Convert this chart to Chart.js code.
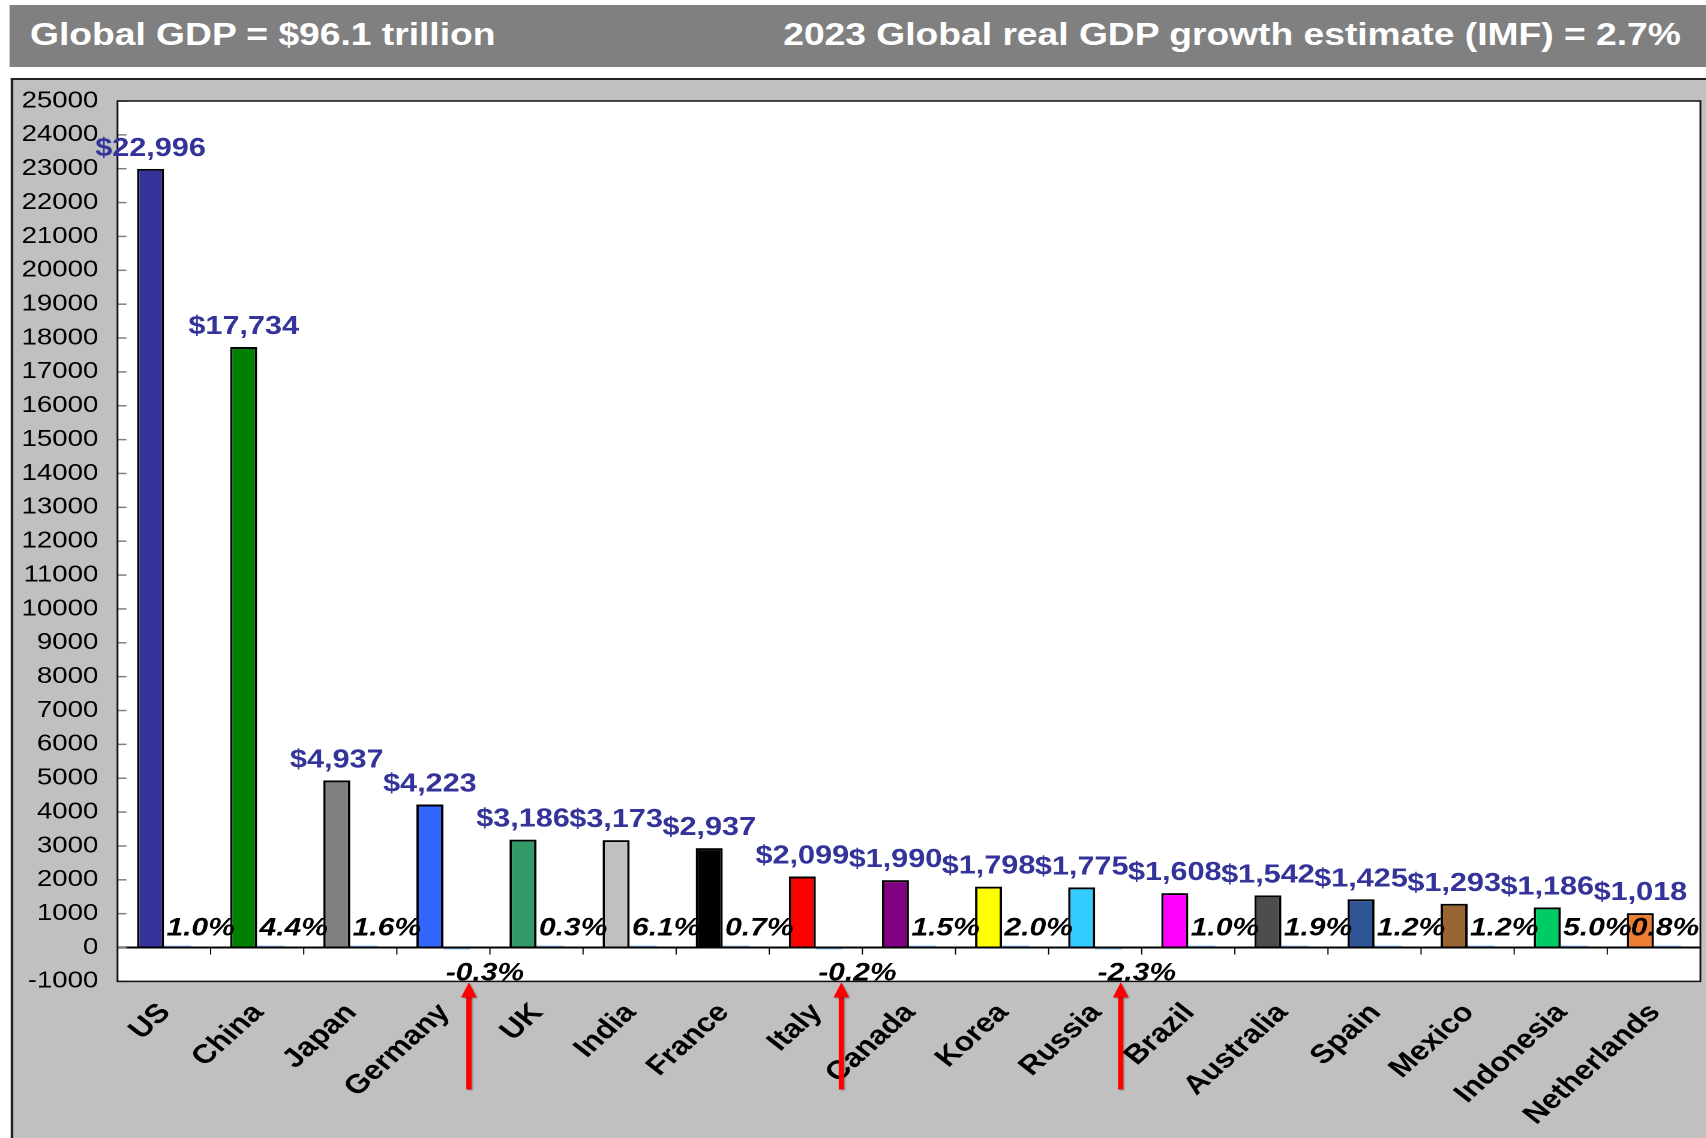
<!DOCTYPE html>
<html>
<head>
<meta charset="utf-8">
<script src="https://cdn.jsdelivr.net/npm/chart.js@4.4.0/dist/chart.umd.min.js"></script>
<style>
  html, body { margin: 0; padding: 0; background: #fff; overflow: hidden; }
  /* the reference is stretched sideways, so the whole page is drawn narrower and scaled */
  #page { position: absolute; left: 0; top: 0; width: 1421.67px; height: 1138px;
          transform: scaleX(1.2); transform-origin: 0 0; }
  #title-bar { position: absolute; left: 7.5px; top: 5px; right: 0; height: 62px; background: #808080;
               color: #fff; font: bold 31px "Liberation Sans", Arial, sans-serif; line-height: 60px; }
  #title-left { position: absolute; left: 17.5px; top: 0; }
  #title-right { position: absolute; right: 21px; top: 0; }
  #chart-box { position: absolute; left: 9px; top: 78px; right: 0; bottom: 0; background: #c0c0c0;
               border-left: 2px solid #222; border-top: 2px solid #222; }
  #chart { position: absolute; left: 0; top: 0; }
</style>
</head>
<body>
<div id="page">
  <div id="title-bar">
    <span id="title-left">Global GDP = $96.1 trillion</span>
    <span id="title-right">2023 Global real GDP growth estimate (IMF) = 2.7%</span>
  </div>
  <div id="chart-box">
    <canvas id="chart" width="1410" height="1058"></canvas>
  </div>
</div>
<script>
// Data (GDP in US$ billions, real growth in %)
const countries = ['US', 'China', 'Japan', 'Germany', 'UK', 'India', 'France', 'Italy', 'Canada',
  'Korea', 'Russia', 'Brazil', 'Australia', 'Spain', 'Mexico', 'Indonesia', 'Netherlands'];
const gdpValues = [22996, 17734, 4937, 4223, 3186, 3173, 2937, 2099, 1990,
  1798, 1775, 1608, 1542, 1425, 1293, 1186, 1018];
const growthPct = [1.0, 4.4, 1.6, -0.3, 0.3, 6.1, 0.7, -0.2, 1.5,
  2.0, -2.3, 1.0, 1.9, 1.2, 1.2, 5.0, 0.8];
const yMin = -1000;
const yMax = 25000;
const yStep = 1000;

const barColors = ['#333399', '#008000', '#808080', '#3366ff', '#339966', '#c0c0c0', '#000000', '#ff0000', '#800080',
  '#ffff00', '#33ccff', '#ff00ff', '#4d4d4d', '#2f5597', '#996633', '#00cc66', '#ed7d31'];

const FONT = '"Liberation Sans", Arial, sans-serif';

function drawArrow(ctx, x, tip, tail) {
  ctx.save();
  ctx.shadowColor = 'rgba(0,0,0,0.35)';
  ctx.shadowOffsetX = 2;
  ctx.shadowOffsetY = 2;
  ctx.shadowBlur = 3;
  ctx.fillStyle = '#ff0000';
  ctx.fillRect(x - 2.2, tip + 14, 4.4, tail - tip - 14);
  ctx.beginPath();
  ctx.moveTo(x, tip);
  ctx.lineTo(x - 6.5, tip + 15);
  ctx.lineTo(x + 6.5, tip + 15);
  ctx.closePath();
  ctx.fill();
  ctx.restore();
}

// Plot background, borders, tick marks, value labels and arrows
const decorPlugin = {
  id: 'decor',
  beforeDraw(chart) {
    const { ctx, chartArea: a } = chart;
    ctx.save();
    ctx.fillStyle = '#ffffff';
    ctx.fillRect(a.left, a.top, a.right - a.left, a.bottom - a.top);
    ctx.restore();
  },
  afterDatasetsDraw(chart) {
    const { ctx, chartArea: a } = chart;
    const xs = chart.scales.x, ys = chart.scales.y;
    const y0 = ys.getPixelForValue(0);
    ctx.save();

    // zero line
    ctx.strokeStyle = '#000';
    ctx.lineWidth = 2;
    ctx.beginPath();
    ctx.moveTo(a.left, y0);
    ctx.lineTo(a.right, y0);
    ctx.stroke();

    // category boundary ticks below the zero line
    ctx.lineWidth = 1;
    for (let i = 1; i < countries.length; i++) {
      const bx = (xs.getPixelForValue(i - 1) + xs.getPixelForValue(i)) / 2;
      ctx.beginPath();
      ctx.moveTo(bx, y0);
      ctx.lineTo(bx, y0 + 7);
      ctx.stroke();
    }

    // y ticks pointing into the plot
    ctx.strokeStyle = '#808080';
    ctx.lineWidth = 1.5;
    ys.ticks.forEach(t => {
      const ty = ys.getPixelForValue(t.value);
      ctx.beginPath();
      ctx.moveTo(a.left, ty);
      ctx.lineTo(a.left + 7.5, ty);
      ctx.stroke();
    });

    // plot border
    ctx.strokeStyle = '#111';
    ctx.lineWidth = 1.5;
    ctx.strokeRect(a.left, a.top, a.right - a.left, a.bottom - a.top);

    // GDP labels
    const gdpMeta = chart.getDatasetMeta(0);
    ctx.font = 'bold 25.5px ' + FONT;
    ctx.fillStyle = '#333399';
    ctx.textAlign = 'center';
    ctx.textBaseline = 'alphabetic';
    gdpMeta.data.forEach((bar, i) => {
      ctx.fillText('$' + gdpValues[i].toLocaleString('en-US'), bar.x, bar.y - 13);
    });

    // growth labels
    const grMeta = chart.getDatasetMeta(1);
    ctx.font = 'italic bold 25px ' + FONT;
    ctx.fillStyle = '#000';
    ctx.textAlign = 'left';
    grMeta.data.forEach((bar, i) => {
      const txt = growthPct[i].toFixed(1) + '%';
      const w = ctx.measureText(txt).width;
      let x = bar.x - bar.width / 2 + 2;
      if (x + w > a.right - 1) x = a.right - 1 - w;
      const neg = growthPct[i] < 0;
      ctx.fillText(txt, x, neg ? y0 + 33 : y0 - 12);
      if (neg) drawArrow(ctx, bar.x + 10, a.bottom + 1, a.bottom + 108);
    });

    ctx.restore();
  }
};

const ctx = document.getElementById('chart').getContext('2d');
new Chart(ctx, {
  type: 'bar',
  data: {
    labels: countries,
    datasets: [{
      label: 'GDP',
      data: gdpValues,
      backgroundColor: barColors,
      borderColor: '#000',
      borderWidth: 2,
      categoryPercentage: 0.58,
      barPercentage: 1
    }, {
      label: 'Growth',
      data: growthPct,
      backgroundColor: '#99ccff',
      borderWidth: 0,
      minBarLength: 2,
      categoryPercentage: 0.58,
      barPercentage: 1
    }]
  },
  options: {
    responsive: false,
    animation: false,
    devicePixelRatio: 2,
    layout: { padding: { top: 21, right: 4, left: 0, bottom: 0 } },
    plugins: { legend: { display: false }, tooltip: { enabled: false } },
    scales: {
      x: {
        grid: { display: false, drawTicks: false },
        border: { display: false },
        ticks: {
          color: '#000', autoSkip: false, minRotation: 47, maxRotation: 47,
          padding: 16, labelOffset: 1,
          font: { family: FONT, size: 26.5, weight: 'bold' }
        },
        afterFit: s => { s.height = 156.6; s.paddingLeft = 0; s.paddingRight = 0; }
      },
      y: {
        min: yMin,
        max: yMax,
        grid: { display: false, drawTicks: false },
        border: { display: false },
        ticks: {
          stepSize: yStep, color: '#000', padding: 16,
          font: { family: FONT, size: 23 },
          callback: v => String(v)
        },
        afterFit: s => { s.width = 86.9; s.paddingTop = 0; s.paddingBottom = 0; }
      }
    }
  },
  plugins: [decorPlugin]
});
</script>
</body>
</html>
